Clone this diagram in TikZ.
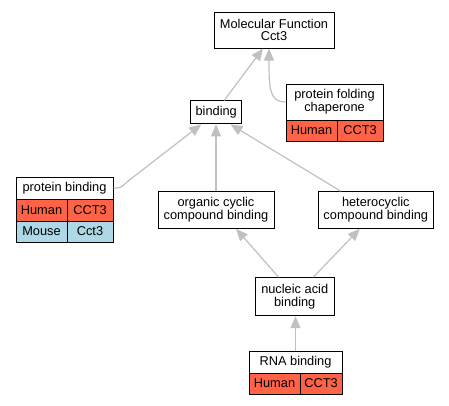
\documentclass[tikz,border=0pt]{standalone}
\usepackage{fontspec}
\setmainfont{Liberation Sans}
\usetikzlibrary{arrows.meta}
\definecolor{tom}{RGB}{255,99,71}
\definecolor{lblue}{RGB}{173,216,230}
\definecolor{edgegray}{RGB}{192,192,192}
\begin{document}
\begin{tikzpicture}[x=1pt,y=-1pt,
  every node/.style={font=\fontsize{12.8}{12.7}\selectfont, inner sep=0pt, align=center, text=black},
  box/.style={draw=black, line width=1pt, fill=white},
  cell/.style={draw=black, line width=1pt, fill=#1},
  edge/.style={draw=edgegray, line width=1.2pt, -{Triangle[length=12pt,width=10pt]}}
]
\useasboundingbox (0,0) rectangle (449,405);
% nodes
\node[box, minimum width=120pt, minimum height=36pt] (mf) at (274,30) {Molecular Function\\Cct3};
\node[box, minimum width=51pt, minimum height=23pt] (bind) at (216.2,112.4) {binding};
\node[box, minimum width=97pt, minimum height=36pt] (pfc) at (334.5,102) {protein folding\\chaperone};
\node[cell=tom, minimum width=51pt, minimum height=21pt] (pfch) at (311.5,130.5) {Human};
\node[cell=tom, minimum width=46pt, minimum height=21pt] (pfcg) at (360,130.5) {CCT3};
\node[box, minimum width=97pt, minimum height=22pt] (pbh) at (64.5,188) {protein binding};
\node[cell=tom, minimum width=51pt, minimum height=22pt] (pbhu) at (41.5,210) {Human};
\node[cell=tom, minimum width=46pt, minimum height=22pt] (pbhg) at (90,210) {CCT3};
\node[cell=lblue, minimum width=51pt, minimum height=21pt] (pbmo) at (41.5,231.5) {Mouse};
\node[cell=lblue, minimum width=46pt, minimum height=21pt] (pbmg) at (90,231.5) {Cct3};
\node[box, minimum width=116pt, minimum height=36.6pt] (org) at (216,210) {organic cyclic\\compound binding};
\node[box, minimum width=115pt, minimum height=36.6pt] (het) at (375.8,210) {heterocyclic\\compound binding};
\node[box, minimum width=79pt, minimum height=38pt] (nuc) at (294.7,296.7) {nucleic acid\\binding};
\node[box, minimum width=93pt, minimum height=22pt] (rna) at (295.5,362) {RNA binding};
\node[cell=tom, minimum width=51pt, minimum height=21pt] (rnahu) at (274.5,383.5) {Human};
\node[cell=tom, minimum width=42pt, minimum height=21pt] (rnag) at (321,383.5) {CCT3};
% edges
\draw[edge] ([xshift=8pt]bind.north) -- ([xshift=-11pt]mf.south);
\draw[edge] (pfc.west) .. controls +(-16,0) and +(0,40) .. ([xshift=-5pt]mf.south);
\draw[edge] (pbh.east) .. controls +(10,0) and +(-8,6) .. ++(16,-8) -- ([xshift=11pt]bind.south west);
\draw[edge] (org.north) -- (org.north |- bind.south);
\draw[edge] ([xshift=-35pt]het.north) -- ([xshift=-11.7pt]bind.south east);
\draw[edge] ([xshift=-16pt]nuc.north) -- ([xshift=20pt]org.south);
\draw[edge] ([xshift=18.6pt]nuc.north) -- ([xshift=-16pt]het.south);
\draw[edge] (rna.north) -- (rna.north |- nuc.south);
\end{tikzpicture}
\end{document}
